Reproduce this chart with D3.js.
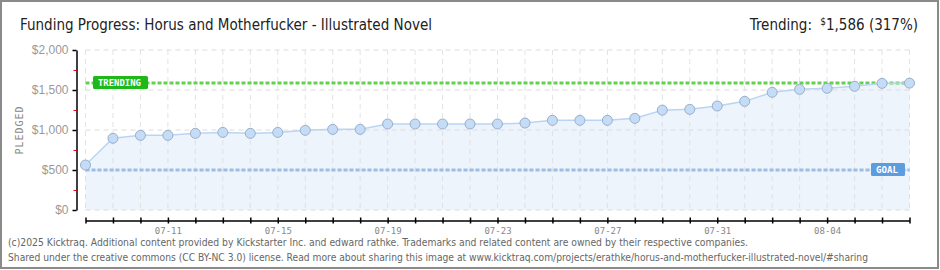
<!DOCTYPE html>
<html>
<head>
<meta charset="utf-8">
<script src="https://cdn.jsdelivr.net/npm/d3@7"></script>
<style>
  body { margin: 0; background: #fff; }
  svg { display: block; }
</style>
</head>
<body>
<svg width="940" height="270"></svg>
<script>
// data
var days = ["07-08", "07-09", "07-10", "07-11", "07-12", "07-13", "07-14", "07-15", "07-16", "07-17",
            "07-18", "07-19", "07-20", "07-21", "07-22", "07-23", "07-24", "07-25", "07-26", "07-27",
            "07-28", "07-29", "07-30", "07-31", "08-01", "08-02", "08-03", "08-04", "08-05", "08-06", "08-07"];
var pledged = [562, 896, 933, 933, 958, 970, 958, 970, 996, 1008,
               1008, 1075, 1075, 1075, 1075, 1075, 1087, 1121, 1121, 1121,
               1146, 1248, 1258, 1300, 1358, 1471, 1508, 1521, 1546, 1583, 1586];
var tickLabels = ["07-11", "07-15", "07-19", "07-23", "07-27", "07-31", "08-04"];
var yTicks = [0, 500, 1000, 1500, 2000];
var yMinor = [250, 750, 1250, 1750];
var goal = 500;
var trending = 1586;

var svg = d3.select("svg");
var width = +svg.attr("width");
var height = +svg.attr("height");

var plotLeft = 85.5, plotRight = 909.5, plotTop = 50, plotBottom = 210;

var x = d3.scalePoint().domain(days).range([plotLeft, plotRight]);
var y = d3.scaleLinear().domain([0, 2000]).range([plotBottom, plotTop]);

// frame
svg.append("rect")
    .attr("x", 1).attr("y", 1)
    .attr("width", width - 3).attr("height", height - 3)
    .attr("fill", "#fff")
    .attr("stroke", "#8a8a8a")
    .attr("stroke-width", 2);

// TITLE
svg.append("text")
    .attr("x", 20).attr("y", 30)
    .attr("font-family", "DejaVu Sans Condensed, DejaVu Sans")
    .attr("font-size", 15)
    .attr("fill", "#222")
    .attr("textLength", 412)
    .attr("lengthAdjust", "spacingAndGlyphs")
    .text("Funding Progress: Horus and Motherfucker - Illustrated Novel");

var trendText = svg.append("text")
    .attr("x", 918).attr("y", 30)
    .attr("text-anchor", "end")
    .attr("font-family", "DejaVu Sans Condensed, DejaVu Sans")
    .attr("font-size", 15)
    .attr("fill", "#222");
trendText.append("tspan").text("Trending: ");
trendText.append("tspan").attr("font-size", 10).attr("dy", -5).attr("dx", 4).text("$");
trendText.append("tspan").attr("dy", 5).text("1,586 (317%)");

// AREA + LINE
var area = d3.area()
    .x(function(d, i) { return x(days[i]); })
    .y0(y(0))
    .y1(function(d) { return y(d); });
var line = d3.line()
    .x(function(d, i) { return x(days[i]); })
    .y(function(d) { return y(d); });

svg.append("path")
    .attr("d", area(pledged))
    .attr("fill", "#edf4fc");

// GRID
svg.selectAll(".vgrid")
    .data(days)
    .enter()
    .append("line")
    .attr("x1", function(d) { return x(d); })
    .attr("x2", function(d) { return x(d); })
    .attr("y1", plotTop).attr("y2", plotBottom)
    .attr("stroke", "#dcdcdc")
    .attr("stroke-opacity", 0.8)
    .attr("stroke-dasharray", "5,4");

svg.selectAll(".hgrid")
    .data(yTicks)
    .enter()
    .append("line")
    .attr("x1", plotLeft).attr("x2", plotRight)
    .attr("y1", function(d) { return y(d); })
    .attr("y2", function(d) { return y(d); })
    .attr("stroke", "#dcdcdc")
    .attr("stroke-dasharray", "5,4");

// GOAL / TRENDING lines
svg.append("line")
    .attr("x1", plotLeft).attr("x2", plotRight)
    .attr("y1", Math.round(y(goal))).attr("y2", Math.round(y(goal)))
    .attr("stroke", "#9dbde4")
    .attr("stroke-width", 3)
    .attr("stroke-dasharray", "4,2");

svg.append("line")
    .attr("x1", plotLeft).attr("x2", plotRight)
    .attr("y1", Math.round(y(trending))).attr("y2", Math.round(y(trending)))
    .attr("stroke", "#62d150")
    .attr("stroke-width", 3)
    .attr("stroke-dasharray", "4,2");

svg.append("path")
    .attr("d", line(pledged))
    .attr("fill", "none")
    .attr("stroke", "#b9d5f3")
    .attr("stroke-width", 1.5);

svg.selectAll(".dot")
    .data(pledged)
    .enter()
    .append("circle")
    .attr("cx", function(d, i) { return x(days[i]); })
    .attr("cy", function(d) { return y(d); })
    .attr("r", 5)
    .attr("fill", "#c5dcf6")
    .attr("stroke", "#99aecb")
    .attr("stroke-width", 1);

// LABEL BOXES
function badge(bx, by, w, h, color, label) {
    svg.append("rect")
        .attr("x", bx).attr("y", by)
        .attr("width", w).attr("height", h)
        .attr("rx", 1.5)
        .attr("fill", color);
    svg.append("text")
        .attr("x", bx + 5).attr("y", by + h / 2 + 3.5)
        .attr("font-family", "DejaVu Sans Mono, monospace")
        .attr("font-size", 9.5)
        .attr("font-weight", "bold")
        .attr("fill", "#fff")
        .attr("textLength", w - 12)
        .attr("lengthAdjust", "spacingAndGlyphs")
        .text(label);
}
badge(93, y(trending) - 7, 55, 13, "#1fb81a", "TRENDING");
badge(871, y(goal) - 7, 34, 13, "#5b9ddf", "GOAL");

// Y AXIS
var yAxis = d3.axisLeft(y)
    .tickValues(yTicks)
    .tickFormat(function(d) { return "$" + d3.format(",")(d); })
    .tickSizeInner(4)
    .tickSizeOuter(0)
    .tickPadding(4);
var gy = svg.append("g")
    .attr("transform", "translate(76.5,0)")
    .call(yAxis);
gy.select(".domain").attr("stroke", "#000").attr("stroke-width", 1.5);
gy.selectAll(".tick line").attr("stroke", "#000").attr("stroke-width", 1.5);
gy.selectAll("text")
    .attr("font-family", "Liberation Sans, Arial")
    .attr("font-size", 12)
    .attr("fill", "#999");

var yMinorAxis = d3.axisLeft(y)
    .tickValues(yMinor)
    .tickFormat("")
    .tickSizeInner(3)
    .tickSizeOuter(0);
var gym = svg.append("g")
    .attr("transform", "translate(76.5,0)")
    .call(yMinorAxis);
gym.select(".domain").remove();
gym.selectAll(".tick line").attr("stroke", "#e00").attr("stroke-width", 1);

svg.append("text")
    .attr("transform", "translate(23,130) rotate(-90)")
    .attr("text-anchor", "middle")
    .attr("font-family", "DejaVu Sans Mono, monospace")
    .attr("font-size", 10)
    .attr("letter-spacing", 1)
    .attr("fill", "#888")
    .text("PLEDGED");

// X AXIS
var xAxis = d3.axisBottom(x)
    .tickValues(days)
    .tickFormat(function(d) { return tickLabels.indexOf(d) >= 0 ? d : ""; })
    .tickSizeInner(3)
    .tickSizeOuter(0)
    .tickPadding(4);
var gx = svg.append("g")
    .attr("transform", "translate(0,220.5)")
    .call(xAxis);
gx.select(".domain").attr("stroke", "#000").attr("stroke-width", 1.5);
gx.selectAll(".tick line")
    .attr("y1", -3).attr("y2", 3)
    .attr("stroke", "#000").attr("stroke-width", 1.5);
gx.selectAll("text")
    .attr("font-family", "DejaVu Sans Mono, monospace")
    .attr("font-size", 9)
    .attr("fill", "#888");

// FOOTER
var footer = [
    "(c)2025 Kicktraq. Additional content provided by Kickstarter Inc. and edward rathke. Trademarks and related content are owned by their respective companies.",
    "Shared under the creative commons (CC BY-NC 3.0) license. Read more about sharing this image at www.kicktraq.com/projects/erathke/horus-and-motherfucker-illustrated-novel/#sharing"
];
var footerLen = [740, 860];
svg.selectAll(".footer")
    .data(footer)
    .enter()
    .append("text")
    .attr("x", 8)
    .attr("y", function(d, i) { return 246 + i * 14.5; })
    .attr("font-family", "DejaVu Sans Condensed, DejaVu Sans")
    .attr("font-size", 10)
    .attr("fill", "#666")
    .attr("textLength", function(d, i) { return footerLen[i]; })
    .attr("lengthAdjust", "spacingAndGlyphs")
    .text(function(d) { return d; });
</script>
</body>
</html>
